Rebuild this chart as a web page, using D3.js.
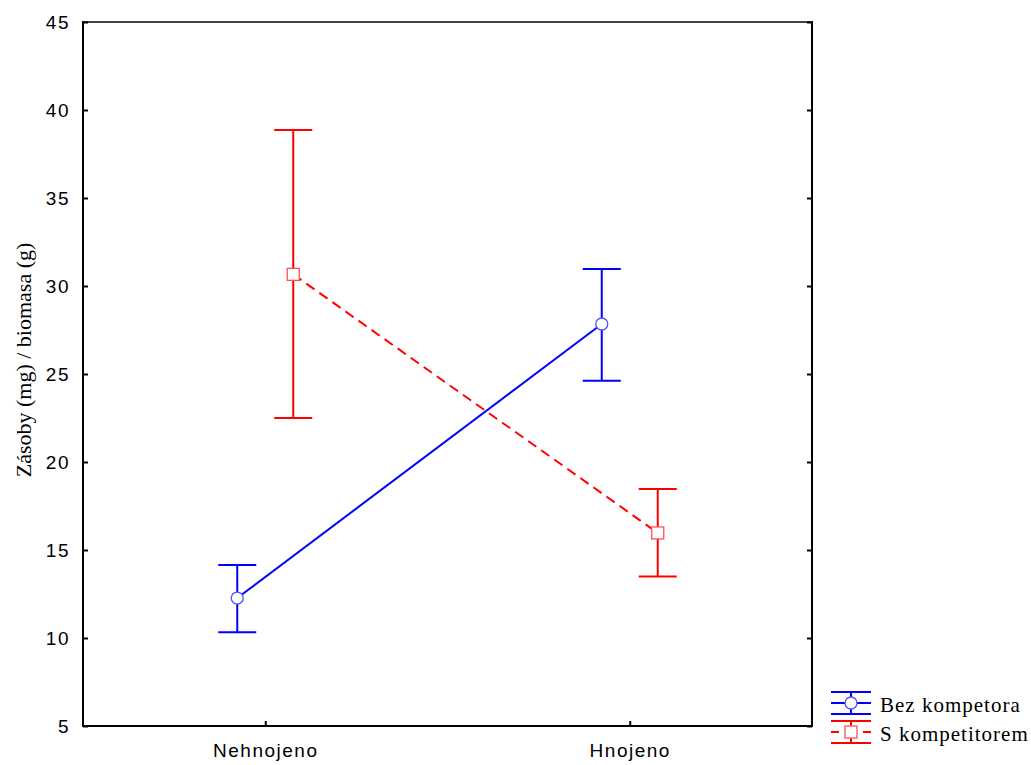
<!DOCTYPE html>
<html><head><meta charset="utf-8">
<script src="https://cdn.jsdelivr.net/npm/d3@7"></script>
<style>body{margin:0;background:#fff}</style>
</head><body>
<script>
const categories = ["Nehnojeno", "Hnojeno"];
const seriesNames = ["Bez kompetora", "S kompetitorem"];
const bezMean = [12.27, 27.84];
const bezUpper = [14.15, 30.97];
const bezLower = [10.32, 24.62];
const sMean = [30.66, 15.97];
const sUpper = [38.86, 18.47];
const sLower = [22.50, 13.50];
const yTicks = [5, 10, 15, 20, 25, 30, 35, 40, 45];
const yTitle = "Zásoby (mg) / biomasa (g)";

const W = 1031, H = 765;
const m = {left: 83, right: 812, top: 22, bottom: 726};
const svg = d3.select("body").append("svg").attr("width", W).attr("height", H);

const x = d3.scalePoint().domain(categories).range([m.left, m.right]).padding(0.5);
const y = d3.scaleLinear().domain([5, 45]).range([m.bottom, m.top]);

const series = [
  {name: seriesNames[0], mean: bezMean, up: bezUpper, lo: bezLower, color: "#0000ff", light: "#5050ff", off: -28, dash: null, shape: "circle"},
  {name: seriesNames[1], mean: sMean, up: sUpper, lo: sLower, color: "#ff0000", light: "#ff5050", off: 28, dash: "10,6", shape: "square"}
];

const sans = "Liberation Sans, Arial, sans-serif";
const serif = "Liberation Serif, Times New Roman, serif";

// frame
svg.append("rect").attr("x", m.left).attr("y", m.top).attr("width", m.right - m.left).attr("height", m.bottom - m.top)
  .attr("fill", "none").attr("stroke", "#000").attr("stroke-width", 2);
svg.append("line").attr("x1", m.left).attr("x2", m.right).attr("y1", m.top).attr("y2", m.top).attr("stroke", "#444").attr("stroke-width", 2);

// y axis left
const yl = svg.append("g").attr("transform", `translate(${m.left},0)`)
  .call(d3.axisLeft(y).tickValues(yTicks).tickSize(-5).tickPadding(13));
yl.select(".domain").remove();
yl.selectAll("line").attr("stroke", "#000").attr("stroke-width", 2);
yl.selectAll("text").attr("font-family", sans).attr("font-size", 19).attr("letter-spacing", 1.5).attr("fill", "#000");
// y axis right ticks
const yr = svg.append("g").attr("transform", `translate(${m.right},0)`)
  .call(d3.axisRight(y).tickValues(yTicks).tickSize(-5).tickFormat(""));
yr.select(".domain").remove();
yr.selectAll("line").attr("stroke", "#000").attr("stroke-width", 2);
// x axis
const xb = svg.append("g").attr("transform", `translate(0,${m.bottom})`)
  .call(d3.axisBottom(x).tickSize(-5).tickPadding(18));
xb.select(".domain").remove();
xb.selectAll("line").attr("stroke", "#000").attr("stroke-width", 2);
xb.selectAll("text").attr("font-family", sans).attr("font-size", 19).attr("letter-spacing", 1.5).attr("fill", "#000");

// y title
svg.append("text").attr("transform", `translate(31,360) rotate(-90)`)
  .attr("text-anchor", "middle").attr("font-family", serif)
  .attr("font-size", 22).attr("fill", "#000").text(yTitle);

const cap = 19;
series.forEach(s => {
  const g = svg.append("g");
  const px = (c) => x(c) + s.off;
  g.append("path").datum(categories)
    .attr("d", d3.line().x(c => px(c)).y((c, i) => y(s.mean[i])))
    .attr("fill", "none").attr("stroke", s.color).attr("stroke-width", 2)
    .attr("stroke-dasharray", s.dash);
  categories.forEach((c, i) => {
    g.append("line").attr("x1", px(c)).attr("x2", px(c)).attr("y1", y(s.up[i])).attr("y2", y(s.lo[i]))
      .attr("stroke", s.color).attr("stroke-width", 2);
    [s.up[i], s.lo[i]].forEach(v => {
      g.append("line").attr("x1", px(c) - cap).attr("x2", px(c) + cap).attr("y1", y(v)).attr("y2", y(v))
        .attr("stroke", s.color).attr("stroke-width", 2);
    });
    if (s.shape === "circle") {
      g.append("circle").attr("cx", px(c)).attr("cy", y(s.mean[i])).attr("r", 6)
        .attr("fill", "#fff").attr("stroke", s.light).attr("stroke-width", 1.3);
    } else {
      g.append("rect").attr("x", px(c) - 6).attr("y", y(s.mean[i]) - 6).attr("width", 12).attr("height", 12)
        .attr("fill", "#fff").attr("stroke", s.light).attr("stroke-width", 1.3);
    }
  });
});

// legend
const leg = svg.append("g");
series.forEach((s, i) => {
  const cy = 703 + i * 29;
  const cx = 851;
  const gg = leg.append("g");
  gg.append("line").attr("x1", cx - 20).attr("x2", cx + 20).attr("y1", cy - 11).attr("y2", cy - 11).attr("stroke", s.color).attr("stroke-width", 2);
  gg.append("line").attr("x1", cx - 20).attr("x2", cx + 20).attr("y1", cy + 11).attr("y2", cy + 11).attr("stroke", s.color).attr("stroke-width", 2);
  gg.append("line").attr("x1", cx).attr("x2", cx).attr("y1", cy - 11).attr("y2", cy + 11).attr("stroke", s.color).attr("stroke-width", 2);
  if (s.dash) {
    gg.append("line").attr("x1", cx - 20).attr("x2", cx - 12).attr("y1", cy).attr("y2", cy).attr("stroke", s.color).attr("stroke-width", 2);
    gg.append("line").attr("x1", cx + 12).attr("x2", cx + 20).attr("y1", cy).attr("y2", cy).attr("stroke", s.color).attr("stroke-width", 2);
  } else {
    gg.append("line").attr("x1", cx - 20).attr("x2", cx + 20).attr("y1", cy).attr("y2", cy).attr("stroke", s.color).attr("stroke-width", 2);
  }
  if (s.shape === "circle") {
    gg.append("circle").attr("cx", cx).attr("cy", cy).attr("r", 6).attr("fill", "#fff").attr("stroke", s.light).attr("stroke-width", 1.3);
  } else {
    gg.append("rect").attr("x", cx - 6).attr("y", cy - 6).attr("width", 12).attr("height", 12).attr("fill", "#fff").attr("stroke", s.light).attr("stroke-width", 1.3);
  }
  gg.append("text").attr("x", 880).attr("y", cy + 8.5).attr("font-family", serif)
    .attr("font-size", 21).attr("letter-spacing", 1.0).attr("fill", "#000").text(s.name);
});
</script>
</body></html>
